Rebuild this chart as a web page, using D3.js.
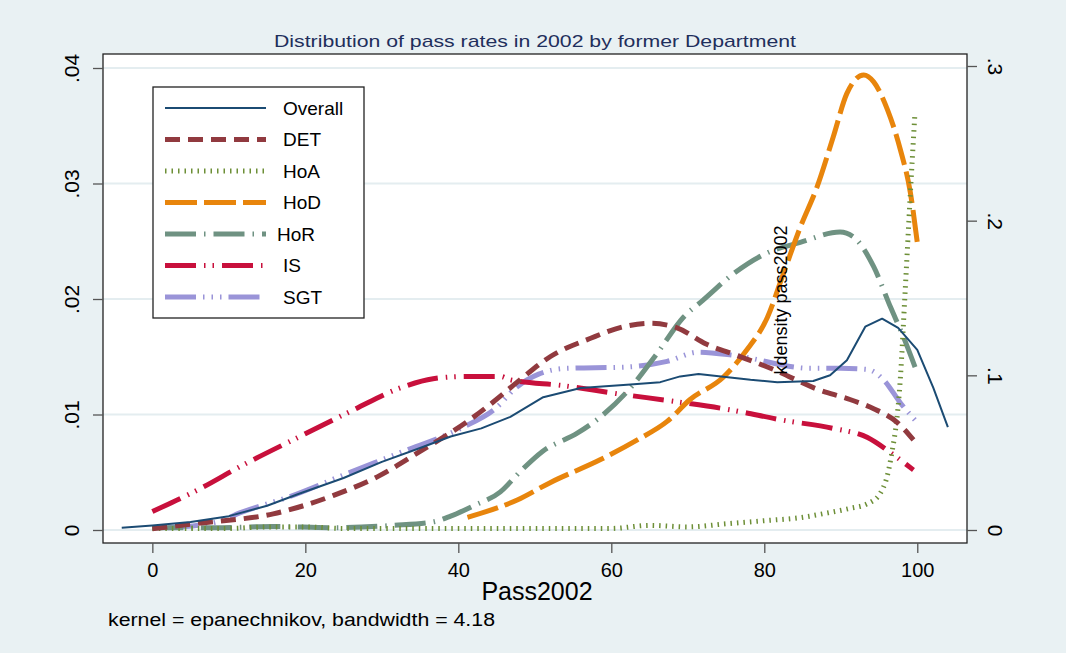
<!DOCTYPE html>
<html>
<head>
<meta charset="utf-8">
<script src="https://cdn.jsdelivr.net/npm/d3@7"></script>
<style>
  body { margin: 0; background: #e9f1f3; }
  text { font-family: "Liberation Sans", Arial, sans-serif; fill: #000; }
</style>
</head>
<body>
<script>
// kernel density curves, [pass2002, density]
let overall = [[-4,0.0002],[0,0.0004],[5,0.0007],[10,0.0012],[15,0.0021],[19,0.0031],[25,0.0045],[30,0.0059],[35,0.0071],[39,0.0081],[43,0.0088],[46.8,0.0098],[51.1,0.0115],[56,0.0123],[62.5,0.0126],[66.4,0.0128],[69,0.0133],[71.4,0.0135],[78.2,0.0130],[81.7,0.0128],[86.4,0.0129],[88.6,0.0134],[90.8,0.0147],[93.2,0.0176],[95.4,0.0183],[97.5,0.0175],[100,0.0156],[102.1,0.0123],[104,0.0089]];
let det = [[0,0.0001],[6.3,0.0006],[15.8,0.0014],[23.7,0.0030],[29.4,0.0046],[35,0.0068],[41.2,0.0094],[44.6,0.0111],[47.7,0.0128],[52,0.0150],[57.3,0.0166],[61.6,0.0176],[65.1,0.0179],[68.6,0.0175],[72.4,0.0161],[76.5,0.0151],[81.2,0.0139],[86.9,0.0122],[91.2,0.0113],[94.3,0.0105],[97.4,0.0093],[99.5,0.0078]];
// HoA is drawn against the right axis
let hoa = [[0,0.001],[5,0.001],[10,0.001],[15,0.002],[20,0.002],[25,0.001],[30,0.001],[40,0.001],[50,0.001],[60,0.001],[65,0.003],[70,0.002],[75,0.004],[80,0.006],[84.7,0.008],[88.2,0.011],[91.2,0.014],[93.5,0.017],[95.2,0.024],[96.5,0.045],[97.8,0.099],[98.4,0.153],[99.1,0.218],[99.7,0.27]];
let hod = [[41.2,0.0011],[47.7,0.0026],[52,0.0041],[58.6,0.0061],[63.4,0.0078],[67.3,0.0094],[70.3,0.0113],[74.6,0.0132],[77.6,0.0155],[80.4,0.0184],[82.5,0.0222],[84.7,0.0262],[86.9,0.0297],[89,0.0340],[90.8,0.0378],[93,0.0394],[94.3,0.0388],[96.1,0.0364],[97.8,0.0329],[99.1,0.0292],[100,0.0249]];
let hor = [[0,0.0002],[8,0.0002],[15.8,0.0003],[23.7,0.0002],[31.5,0.0004],[36.7,0.0007],[39,0.0012],[42,0.0021],[45.5,0.0033],[48,0.0050],[51,0.0068],[55.6,0.0084],[58.6,0.0098],[62.5,0.0123],[66,0.0153],[69.4,0.0184],[72,0.0199],[76,0.0222],[80.4,0.0240],[84.7,0.0249],[89.9,0.0258],[91.6,0.0254],[94.3,0.0228],[96.5,0.0193],[98.2,0.0167],[100,0.0136]];
let is = [[0,0.0016],[6.3,0.0036],[11.5,0.0055],[19.3,0.0081],[26.3,0.0104],[32.4,0.0123],[36.7,0.0131],[41.2,0.0133],[45.5,0.0133],[46.8,0.0130],[53.7,0.0125],[60.8,0.0118],[68.6,0.0111],[75.6,0.0104],[82.5,0.0095],[89,0.0088],[93.5,0.0080],[96.5,0.0067],[99.5,0.0052]];
let sgt = [[2,0.0002],[8.5,0.0007],[11.5,0.0015],[18,0.0029],[25.5,0.0049],[32.4,0.0067],[40.3,0.0088],[45,0.0106],[47.5,0.0123],[50.5,0.0135],[54.2,0.0140],[61.6,0.0141],[67.3,0.0146],[71.4,0.0154],[76.2,0.0151],[86,0.0140],[90,0.0140],[93.5,0.0139],[95.6,0.0130],[97.8,0.0110],[100,0.0093]];

let names = ['Overall','DET','HoA','HoD','HoR','IS','SGT'];
let xTicks = [0,20,40,60,80,100];
let yTicks = [0,0.01,0.02,0.03,0.04];
let y2Ticks = [0,0.1,0.2,0.3];

let series = [
  {name:'Overall', data:overall, color:'#1b4b73', w:2, dash:null, right:false},
  {name:'DET', data:det, color:'#913a3f', w:5, dash:'15,8', right:false},
  {name:'HoA', data:hoa, color:'#6d8f37', w:5, dash:'1.5,5', right:true},
  {name:'HoD', data:hod, color:'#e8850c', w:5, dash:'32,7', right:false},
  {name:'HoR', data:hor, color:'#6f9282', w:5, dash:'31,8,1.5,8', right:false},
  {name:'IS', data:is, color:'#c8103c', w:5, dash:'31,8,1.5,7,1.5,8', right:false},
  {name:'SGT', data:sgt, color:'#9a94d8', w:5, dash:'31,7,1.5,7,1.5,7,1.5,7', right:false}
];

let W = 1066, H = 653;
let box = {left:103, right:967, top:54, bottom:543};

let svg = d3.select('body').append('svg')
    .attr('width', W)
    .attr('height', H);

svg.append('rect').attr('width', W).attr('height', H).attr('fill', '#e9f1f3');
svg.append('rect')
    .attr('x', box.left).attr('y', box.top)
    .attr('width', box.right - box.left).attr('height', box.bottom - box.top)
    .attr('fill', '#fff');

let x = d3.scaleLinear().domain([-6.45, 106.5]).range([box.left, box.right]);
let y = d3.scaleLinear().domain([0, 0.04]).range([530, 68]);
let y2 = d3.scaleLinear().domain([0, 0.3]).range([530, 66]);

let fmt = function(d){ return d === 0 ? '0' : d3.format('.2f')(d).replace(/^0/, '').replace(/0$/, ''); };
let fmtL = function(d){ return d === 0 ? '0' : d3.format('.2f')(d).replace(/^0/, ''); };

// grid lines
svg.append('g').selectAll('line')
    .data(yTicks)
  .enter().append('line')
    .attr('x1', box.left).attr('x2', box.right)
    .attr('y1', d => y(d)).attr('y2', d => y(d))
    .attr('stroke', '#e4edf0').attr('stroke-width', 2);

// curves
svg.append('clipPath').attr('id', 'clip')
  .append('rect').attr('x', box.left).attr('y', box.top)
  .attr('width', box.right - box.left).attr('height', box.bottom - box.top);

let g = svg.append('g').attr('clip-path', 'url(#clip)');
series.slice().reverse().forEach(function(s){
  let yy = s.right ? y2 : y;
  let line = d3.line()
    .x(function(d){ return x(d[0]); })
    .y(function(d){ return yy(d[1]); })
    .curve(s.name === 'Overall' ? d3.curveLinear : d3.curveMonotoneX);
  g.append('path')
    .datum(s.data)
    .attr('d', line)
    .attr('fill', 'none')
    .attr('stroke', s.color)
    .attr('stroke-width', s.w)
    .attr('stroke-dasharray', s.dash)
    .attr('stroke-linejoin', 'round');
});

// frame
svg.append('rect')
    .attr('x', box.left).attr('y', box.top)
    .attr('width', box.right - box.left).attr('height', box.bottom - box.top)
    .attr('fill', 'none').attr('stroke', '#222').attr('stroke-width', 1.3);

// left axis
let yAxis = d3.axisLeft(y).tickValues(yTicks).tickSize(10).tickFormat(fmtL);
let ga = svg.append('g').attr('transform', 'translate(' + box.left + ',0)').call(yAxis);
ga.select('.domain').remove();
ga.selectAll('line').attr('stroke', '#555').attr('stroke-width', 1.3);
ga.selectAll('text')
    .attr('x', null)
    .attr('text-anchor', 'middle')
    .attr('transform', 'translate(-31,0) rotate(-90)')
    .attr('dy', '0.35em')
    .style('font-size', '21px');

// right axis
let y2Axis = d3.axisRight(y2).tickValues(y2Ticks).tickSize(10).tickFormat(fmt);
let gb = svg.append('g').attr('transform', 'translate(' + box.right + ',0)').call(y2Axis);
gb.select('.domain').remove();
gb.selectAll('line').attr('stroke', '#555').attr('stroke-width', 1.3);
gb.selectAll('text')
    .attr('x', null)
    .attr('text-anchor', 'middle')
    .attr('transform', 'translate(28,0) rotate(90)')
    .attr('dy', '0.35em')
    .style('font-size', '21px');

// bottom axis
let xAxis = d3.axisBottom(x).tickValues(xTicks).tickSize(10);
let gx = svg.append('g').attr('transform', 'translate(0,' + box.bottom + ')').call(xAxis);
gx.select('.domain').remove();
gx.selectAll('line').attr('stroke', '#555').attr('stroke-width', 1.3);
gx.selectAll('text').attr('y', 20).style('font-size', '20px');

// texts
svg.append('text')
    .attr('x', 535).attr('y', 47)
    .attr('text-anchor', 'middle')
    .attr('textLength', 522).attr('lengthAdjust', 'spacingAndGlyphs')
    .style('font-size', '17px').style('fill', '#1f2f5c')
    .text('Distribution of pass rates in 2002 by former Department');

svg.append('text')
    .attr('x', 537).attr('y', 600)
    .attr('text-anchor', 'middle')
    .style('font-size', '25px')
    .text('Pass2002');

svg.append('text')
    .attr('x', 108).attr('y', 626)
    .attr('textLength', 387).attr('lengthAdjust', 'spacingAndGlyphs')
    .style('font-size', '18px')
    .text('kernel = epanechnikov, bandwidth = 4.18');

svg.append('text')
    .attr('transform', 'translate(787,300) rotate(-90)')
    .attr('text-anchor', 'middle')
    .style('font-size', '18px')
    .text('kdensity pass2002');

// legend
let lg = svg.append('g');
lg.append('rect')
    .attr('x', 153).attr('y', 87).attr('width', 211).attr('height', 231)
    .attr('fill', '#fff').attr('stroke', '#222').attr('stroke-width', 1.3);
let rowY = d3.scalePoint().domain(names).range([108, 297]);
series.forEach(function(s){
  lg.append('line')
      .attr('x1', 165).attr('x2', 266)
      .attr('y1', rowY(s.name)).attr('y2', rowY(s.name))
      .attr('stroke', s.color)
      .attr('stroke-width', s.w === 2 ? 2 : 5)
      .attr('stroke-dasharray', s.dash);
  lg.append('text')
      .attr('x', s.name === 'HoR' ? 277 : 283).attr('y', rowY(s.name))
      .attr('dy', '0.35em')
      .style('font-size', '19px')
      .text(s.name);
});
</script>
</body>
</html>
